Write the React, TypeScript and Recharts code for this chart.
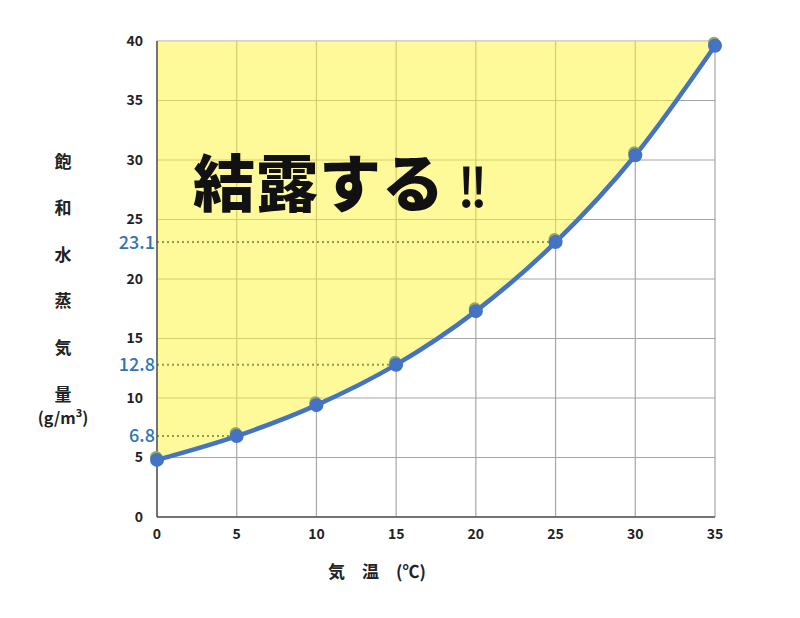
import {
  Area,
  CartesianGrid,
  ComposedChart,
  Customized,
  Line,
  ReferenceLine,
  XAxis,
  YAxis,
} from 'recharts';

// 気温 (℃) と 飽和水蒸気量 (g/m3)
const temps = [0, 5, 10, 15, 20, 25, 30, 35];
const vapor = [4.8, 6.8, 9.4, 12.8, 17.3, 23.1, 30.4, 39.6];
const xTicks = [0, 5, 10, 15, 20, 25, 30, 35];
const yTicks = [0, 5, 10, 15, 20, 25, 30, 35, 40];
const marked = [
  { t: 5, v: 6.8 },
  { t: 15, v: 12.8 },
  { t: 25, v: 23.1 },
];
const yLabelChars = ['飽', '和', '水', '蒸', '気', '量'];
const Y_MAX = 40;

const data = temps.map((t, i) => ({ t, v: vapor[i], band: [vapor[i], Y_MAX] }));

const FONT = '"Noto Sans CJK JP", "Noto Sans", sans-serif';
const BLUE = '#4472C4';

const Marker = (props: any) => {
  const { cx, cy } = props;
  if (cx == null || cy == null) return null;
  return (
    <g>
      <circle cx={cx - 1} cy={cy - 3} r={6} fill="#93a860" />
      <circle cx={cx} cy={cy} r={7} fill={BLUE} />
    </g>
  );
};

const Texts = () => (
  <g fontFamily={FONT}>
    {yLabelChars.map((c, i) => (
      <text
        key={c}
        x={63}
        y={160 + i * 46.6}
        textAnchor="middle"
        dominantBaseline="central"
        fontSize={17}
        fontWeight={700}
        fill="#222"
      >
        {c}
      </text>
    ))}
    <text x={63} y={417} textAnchor="middle" dominantBaseline="central" fontSize={16} fontWeight={700} fill="#222">
      (g/m<tspan fontSize={11} dy={-5}>3</tspan>
      <tspan dy={5}>)</tspan>
    </text>
    <text x={377} y={570} textAnchor="middle" dominantBaseline="central" fontSize={17} fontWeight={700} fill="#222">
      気　温　(℃)
    </text>
  </g>
);

export default function App() {
  return (
    <div style={{ position: 'absolute', top: 0, left: 0, width: 800, height: 618, background: '#fff' }}>
      <ComposedChart
        width={800}
        height={618}
        data={data}
        margin={{ top: 41, right: 85, bottom: 71, left: 97 }}
      >
        <CartesianGrid stroke="#a6a6a6" strokeWidth={1.2} />
        <XAxis
          dataKey="t"
          type="number"
          domain={[0, 35]}
          ticks={xTicks}
          height={30}
          tickLine={false}
          tickMargin={6}
          axisLine={{ stroke: '#555', strokeWidth: 1.5 }}
          tick={{ fill: '#222', fontSize: 14, fontWeight: 700, fontFamily: FONT }}
        />
        <YAxis
          type="number"
          domain={[0, Y_MAX]}
          ticks={yTicks}
          width={60}
          tickLine={false}
          tickMargin={8}
          axisLine={{ stroke: '#555', strokeWidth: 1.5 }}
          tick={{ fill: '#222', fontSize: 14, fontWeight: 700, fontFamily: FONT }}
        />
        <Area
          dataKey="band"
          type="monotone"
          stroke="none"
          fill="#FFF533"
          fillOpacity={0.5}
          isAnimationActive={false}
        />
        {marked.map((m) => (
          <ReferenceLine
            key={m.t}
            segment={[
              { x: 0, y: m.v },
              { x: m.t, y: m.v },
            ]}
            stroke="#8f9d4c"
            strokeWidth={2}
            strokeDasharray="2 3"
            label={{
              value: String(m.v),
              position: 'left',
              offset: 2,
              fill: '#2E75B6',
              fontSize: 18,
              fontWeight: 500,
              fontFamily: FONT,
            }}
          />
        ))}
        <Line
          dataKey="v"
          type="monotone"
          stroke={BLUE}
          strokeWidth={4.5}
          dot={<Marker />}
          activeDot={false}
          isAnimationActive={false}
        />
        <Customized component={Texts} />
      </ComposedChart>
      <div
        style={{
          position: 'absolute',
          left: 193,
          top: 140,
          fontFamily: FONT,
          fontSize: 62,
          fontWeight: 900,
          lineHeight: '80px',
          color: '#111',
          whiteSpace: 'nowrap',
          letterSpacing: 1,
        }}
      >
        結露する
        <span style={{ fontSize: 54, fontWeight: 500, letterSpacing: -6, marginLeft: 12 }}>!!</span>
      </div>
    </div>
  );
}
